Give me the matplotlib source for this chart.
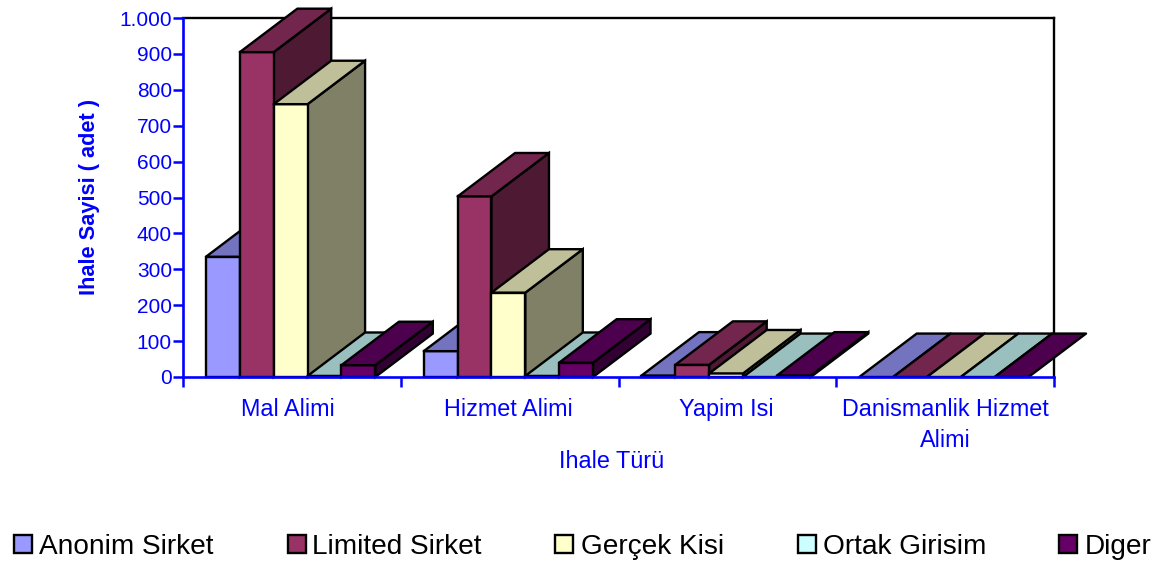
import matplotlib
matplotlib.use('Agg')
import matplotlib.pyplot as plt
from matplotlib.patches import Rectangle

plt.rcParams['font.family'] = ['Liberation Sans', 'DejaVu Sans']

categories = ['Mal Alimi', 'Hizmet Alimi', 'Yapim Isi', 'Danismanlik Hizmet\nAlimi']
series_names = ['Anonim Sirket', 'Limited Sirket', 'Gerçek Kisi', 'Ortak Girisim', 'Diger']
anonim = [335, 72, 4, 0]
limited = [905, 503, 34, 0]
gercek = [760, 235, 10, 0]
ortak = [3, 3, 0, 0]
diger = [33, 40, 4, 0]
series_values = [anonim, limited, gercek, ortak, diger]
y_ticks = [0, 100, 200, 300, 400, 500, 600, 700, 800, 900, 1000]
y_tick_labels = ['0', '100', '200', '300', '400', '500', '600', '700', '800', '900', '1.000']

front_colors = ['#9999FF', '#993366', '#FFFFCC', '#CCFFFF', '#660066']
top_colors = ['#7373BF', '#73264D', '#BFBF99', '#99BFBF', '#4D004D']
side_colors = ['#4D4D80', '#4D1933', '#808066', '#668080', '#330033']

BLUE = '#0000FF'
W, H = 1159, 561

fig = plt.figure(figsize=(W / 100, H / 100), dpi=100)
ax = fig.add_axes([183 / W, 1 - 377 / H, (1054 - 183) / W, (377 - 18) / H])
ax.set_xlim(0, 4)
ax.set_ylim(0, 1000)

# 3d look: depth offset of the bars, in data units
dx = 57.5 / 217.75
dy = 121
bar_w = 0.1555
start = 0.1056
lw = 1.7

z = 3
for c in range(len(categories)):
    for s in range(len(series_names)):
        v = series_values[s][c]
        x0 = c + start + s * bar_w
        x1 = x0 + bar_w
        if v > 0:
            ax.bar(x0, v, width=bar_w, align='edge', color=front_colors[s],
                   edgecolor='k', linewidth=lw, zorder=z, clip_on=False)
            ax.fill([x1, x1 + dx, x1 + dx, x1], [0, dy, v + dy, v], facecolor=side_colors[s],
                    edgecolor='k', linewidth=lw, zorder=z - 0.5, clip_on=False)
        ax.fill([x0, x1, x1 + dx, x0 + dx], [v, v, v + dy, v + dy], facecolor=top_colors[s],
                edgecolor='k', linewidth=lw, zorder=z, clip_on=False, joinstyle='round')
        z += 1

for side in ['top', 'right']:
    ax.spines[side].set_color('k')
    ax.spines[side].set_linewidth(1.7)
    ax.spines[side].set_zorder(1)
for side in ['left', 'bottom']:
    ax.spines[side].set_color(BLUE)
    ax.spines[side].set_linewidth(1.9)
    ax.spines[side].set_zorder(200)

ax.set_yticks(y_ticks)
ax.set_yticklabels(y_tick_labels, fontsize=15, color=BLUE)
ax.tick_params(axis='y', colors=BLUE, length=7, width=1.8, pad=1)

ax.set_xticks([0, 1, 2, 3, 4])
ax.set_xticklabels([])
ax.tick_params(axis='x', which='major', colors=BLUE, length=7, width=1.8)
ax.set_xticks([0.48, 1.495, 2.495, 3.5], minor=True)
ax.set_xticklabels(categories, minor=True, fontsize=16.8, color=BLUE, linespacing=1.44)
ax.tick_params(axis='x', which='minor', length=0, pad=15)

fig.text(611.5 / W, 1 - 461 / H, 'Ihale Türü', fontsize=16.8, color=BLUE, ha='center', va='center')
fig.text(90 / W, 1 - 197 / H, 'Ihale Sayisi ( adet )', fontsize=15.7, color=BLUE, fontweight='bold',
         rotation=90, ha='center', va='center')

# legend boxes and names are spread unevenly in the original
box_x = [14, 288, 555, 798, 1059]
text_x = [39, 312, 581, 823, 1085]
for s, name in enumerate(series_names):
    fig.add_artist(Rectangle((box_x[s] / W, 1 - 553 / H), 18 / W, 18 / H, facecolor=front_colors[s],
                             edgecolor='k', linewidth=1.7, transform=fig.transFigure))
    fig.text(text_x[s] / W, 1 - 546.5 / H, name, fontsize=20.2, color='k', ha='left', va='center')

fig.savefig('out.png', dpi=100)
